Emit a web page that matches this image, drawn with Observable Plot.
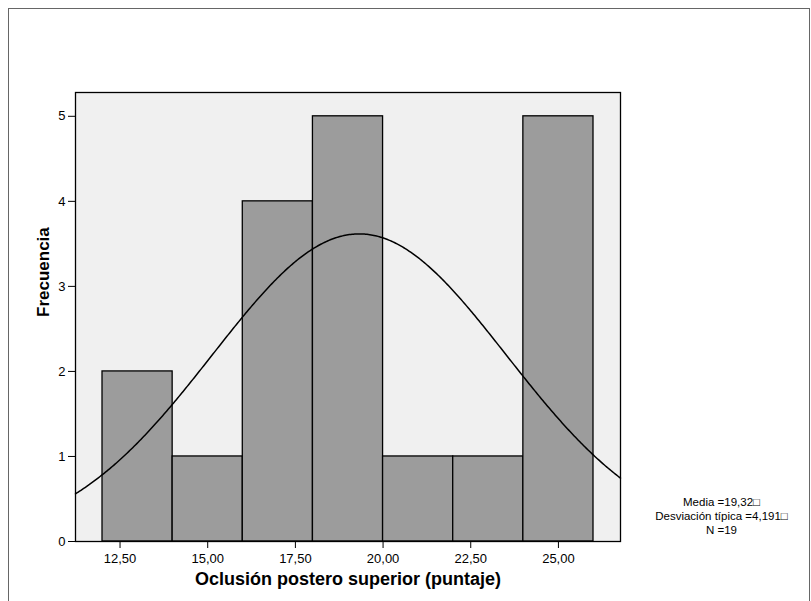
<!DOCTYPE html>
<html>
<head>
<meta charset="utf-8">
<script src="https://cdn.jsdelivr.net/npm/d3@7"></script>
<script src="https://cdn.jsdelivr.net/npm/@observablehq/plot@0.6"></script>
<style>
  html, body { margin: 0; padding: 0; background: #ffffff; }
  #wrap { position: relative; width: 811px; height: 601px; overflow: hidden; }
  #wrap svg { display: block; }
  #edge { position: absolute; left: 8px; top: 8px; width: 802px; height: 600px;
          border: 1px solid #666666; box-sizing: border-box; pointer-events: none; }
</style>
</head>
<body>
<div id="wrap"><div id="edge"></div></div>
<script>
// Histogram bins (edges) and their frequencies
const binEdges = [12, 14, 16, 18, 20, 22, 24, 26];
const frequencies = [2, 1, 4, 5, 1, 1, 5];

// Axis ticks
const xTicks = [12.5, 15, 17.5, 20, 22.5, 25];
const yTicks = [0, 1, 2, 3, 4, 5];

// Summary statistics shown beside the chart
const mean = 19.32;
const stdDev = 4.191;
const count = 19;

const xTitle = "Oclusión postero superior (puntaje)";
const yTitle = "Frecuencia";

const comma = (v, digits) => v.toFixed(digits).replace(".", ",");

const bins = frequencies.map((f, i) => ({x1: binEdges[i], x2: binEdges[i + 1], freq: f}));
const binWidth = binEdges[1] - binEdges[0];

const xDomain = [11.23, 26.77];

// Normal curve with the stated mean and standard deviation, scaled to counts
const normal = x => count * binWidth * Math.exp(-0.5 * ((x - mean) / stdDev) ** 2) / (stdDev * Math.sqrt(2 * Math.PI));
const curve = d3.range(0, 401).map(i => {
  const x = xDomain[0] + (xDomain[1] - xDomain[0]) * i / 400;
  return {x, y: normal(x)};
});

const stats = [
  `Media =${comma(mean, 2)}\u25A1`,
  `Desviación típica =${comma(stdDev, 3)}\u25A1`,
  `N =${count}`
];

const font = "'Liberation Sans', Arial, Helvetica, sans-serif";

const chart = Plot.plot({
  width: 811,
  height: 601,
  marginLeft: 75,
  marginRight: 191,
  marginTop: 92,
  marginBottom: 60,
  style: {fontFamily: font, background: "transparent", color: "#000", overflow: "visible"},
  x: {domain: xDomain},
  y: {domain: [0, 5.28]},
  marks: [
    Plot.frame({fill: "#f0f0f0", stroke: "none"}),
    Plot.rectY(bins, {x1: "x1", x2: "x2", y: "freq", fill: "#9c9c9c", stroke: "#000", strokeWidth: 1.3, inset: 0}),
    Plot.line(curve, {x: "x", y: "y", stroke: "#000", strokeWidth: 1.5}),
    Plot.frame({stroke: "#000", strokeWidth: 1.3}),
    Plot.axisX({ticks: xTicks, tickFormat: d => comma(d, 2), tickSize: 7, tickPadding: 5, fontSize: 13, label: null}),
    Plot.axisY({ticks: yTicks, tickFormat: d => String(d), tickSize: 7, tickPadding: 3, fontSize: 13, label: null}),
    Plot.text([xTitle], {text: d => d, frameAnchor: "bottom", dy: 43, fontWeight: "bold", fontSize: 18}),
    Plot.text([yTitle], {text: d => d, frameAnchor: "left", dx: -32, rotate: -90, fontWeight: "bold", fontSize: 17}),
    Plot.text([stats.join("\n")], {text: d => d, frameAnchor: "bottom-right", dx: 101, dy: -26,
      textAnchor: "middle", lineAnchor: "middle", lineHeight: 1.2, fontSize: 11.5})
  ]
});

document.getElementById("wrap").prepend(chart);
</script>
</body>
</html>
